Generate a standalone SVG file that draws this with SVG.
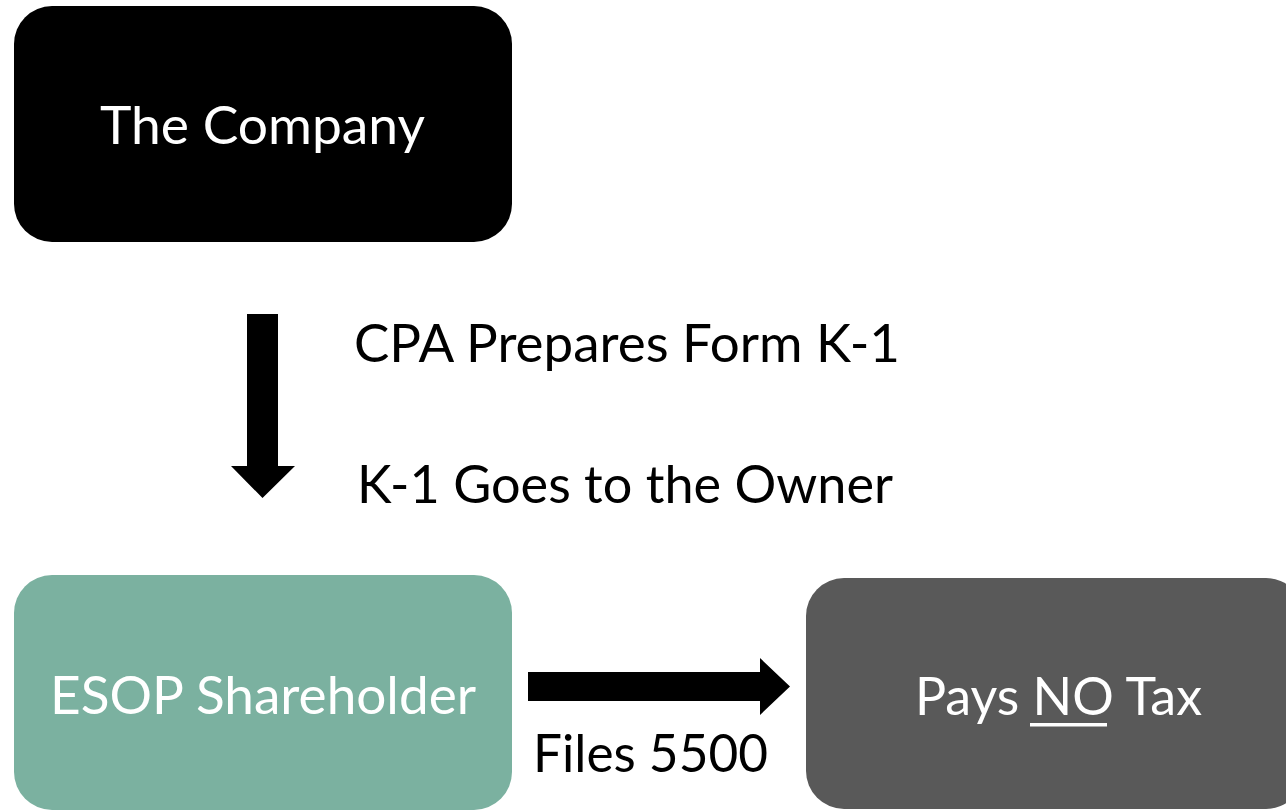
<svg xmlns="http://www.w3.org/2000/svg" width="1286" height="810" viewBox="0 0 1286 810">
  <style>
    .box-label { font-family: Lato, "Open Sans", "Liberation Sans", sans-serif; font-size: 52px; fill: #ffffff; }
    .note { font-family: Lato, "Open Sans", "Liberation Sans", sans-serif; font-size: 52px; fill: #000000; }
    .arrow { fill: #000000; }
  </style>
  <rect x="0" y="0" width="1286" height="810" fill="#ffffff"/>

  <!-- company -->
  <g id="company">
    <rect x="14" y="6" width="498" height="236" rx="38" ry="38" fill="#000000"/>
    <text class="box-label" x="100" y="144" textLength="325" lengthAdjust="spacingAndGlyphs">The Company</text>
  </g>

  <!-- ESOP shareholder -->
  <g id="esop">
    <rect x="14" y="575" width="498" height="235" rx="38" ry="38" fill="#7bb1a0"/>
    <text class="box-label" x="50" y="714" textLength="426" lengthAdjust="spacingAndGlyphs">ESOP Shareholder</text>
  </g>

  <!-- tax outcome -->
  <g id="tax">
    <rect x="806" y="578" width="498" height="231" rx="38" ry="38" fill="#595959"/>
    <text class="box-label" x="915" y="715" textLength="287" lengthAdjust="spacingAndGlyphs">Pays NO Tax</text>
    <rect x="1030" y="723" width="77" height="3.5" fill="#ffffff"/>
  </g>

  <!-- connectors -->
  <g id="connectors">
    <polygon class="arrow" points="247,314 278,314 278,466 295,466 262.5,498 231,466 247,466"/>
    <text class="note" x="354" y="362" textLength="546" lengthAdjust="spacingAndGlyphs">CPA Prepares Form K-1</text>
    <text class="note" x="357" y="503" textLength="536" lengthAdjust="spacingAndGlyphs">K-1 Goes to the Owner</text>

    <polygon class="arrow" points="528,672 760,672 760,658 790,686.5 760,715 760,701 528,701"/>
    <text class="note" x="533" y="772" textLength="235" lengthAdjust="spacingAndGlyphs">Files 5500</text>
  </g>
</svg>
